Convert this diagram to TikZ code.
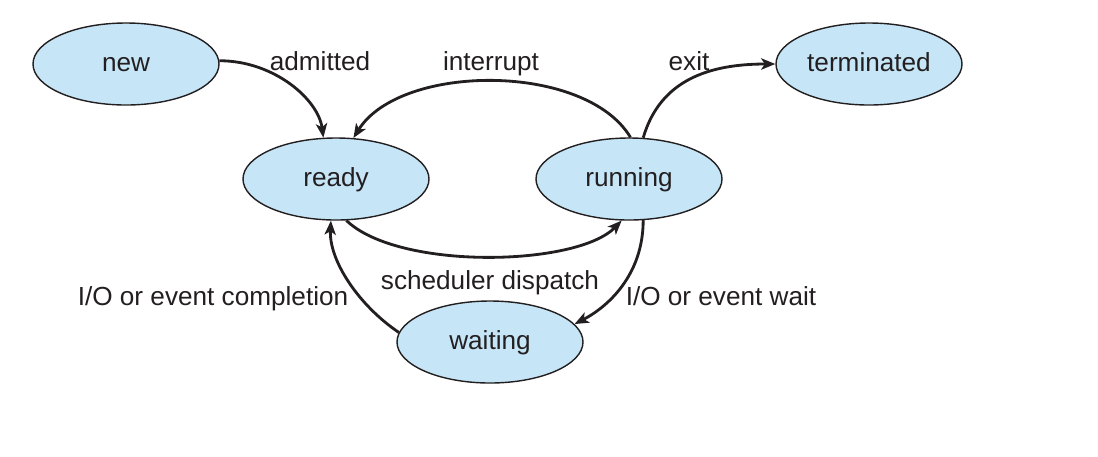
\documentclass[tikz,border=0pt]{standalone}
\usepackage{fontspec}
\setmainfont{Liberation Sans}
\usetikzlibrary{shapes.geometric,arrows.meta}
\definecolor{statefill}{HTML}{C6E6F8}
\definecolor{ink}{HTML}{231F20}
\begin{document}
\begin{tikzpicture}[x=0.025cm,y=-0.025cm,
  font=\fontsize{18.6}{22}\selectfont,
  state/.style={ellipse,draw=ink,line width=1pt,fill=statefill,text=ink,
    minimum width=186*0.025cm,minimum height=82*0.025cm,inner sep=0pt,
    text height=11pt,text depth=-3pt},
  lbl/.style={text=ink,anchor=base,inner sep=0pt},
  trans/.style={draw=ink,line width=2pt,
    -{Stealth[length=10pt,width=8pt,inset=2.5pt]}}]
  \useasboundingbox (0,0) rectangle (1098,456);

  % process states
  \node[state] (new)        at (126,64)  {new};
  \node[state] (ready)      at (336,179) {ready};
  \node[state] (running)    at (629,179) {running};
  \node[state] (terminated) at (869,64)  {terminated};
  \node[state] (waiting)    at (490,342) {waiting};

  % transitions
  \draw[trans] (new.2) .. controls +(55,0) and +(-5,-38) .. (ready.107);
  \draw[trans] (running.88) .. controls +(-45,-75) and +(47,-75) .. (ready.67);
  \draw[trans] (running.71) .. controls +(17,-58) and +(-66,0) .. (terminated.west);
  \draw[trans] (ready.-76) .. controls +(52,50) and +(-45,46) .. (running.-100);
  \draw[trans] (running.-71) .. controls +(0,55) and +(33,-17) .. (waiting.12);
  \draw[trans] (waiting.174) .. controls +(-40,-27) and +(-2,40) .. (ready.-97);

  % transition labels
  \node[lbl] (admitted)   at (320,70)  {admitted};
  \node[lbl] (interrupt)  at (491,70)  {interrupt};
  \node[lbl] (exitlbl)    at (689,70)  {exit};
  \node[lbl] (dispatch)   at (490,289) {scheduler dispatch};
  \node[lbl] (completion) at (213,305) {I/O or event completion};
  \node[lbl] (waitlbl)    at (721,305) {I/O or event wait};
\end{tikzpicture}
\end{document}
